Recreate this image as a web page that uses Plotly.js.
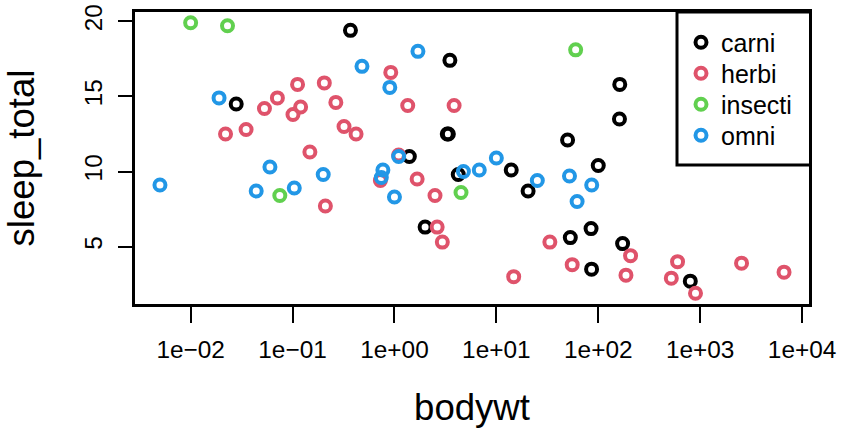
<!DOCTYPE html>
<html>
<head>
<meta charset="utf-8">
<script src="https://cdn.plot.ly/plotly-3.0.1.min.js"></script>
<style>html,body{margin:0;padding:0;background:#fff;}#chart{width:843px;height:428px;}</style>
</head>
<body>
<div id="chart"></div>
<script>
// msleep (rows with a known 'vore')
const animal = ["Cheetah","Owl monkey","Mountain beaver","Greater short-tailed shrew","Cow","Three-toed sloth","Northern fur seal","Dog","Roe deer","Goat","Guinea pig","Grivet","Chinchilla","Star-nosed mole","African giant pouched rat","Lesser short-tailed shrew","Long-nosed armadillo","Tree hyrax","North American Opossum","Asian elephant","Big brown bat","Horse","Donkey","European hedgehog","Patas monkey","Western american chipmunk","Domestic cat","Galago","Giraffe","Pilot whale","Gray seal","Gray hyrax","Human","Mongoose lemur","African elephant","Thick-tailed opposum","Macaque","Mongolian gerbil","Golden hamster","Vole","House mouse","Little brown bat","Round-tailed muskrat","Slow loris","Degu","Northern grasshopper mouse","Rabbit","Sheep","Chimpanzee","Tiger","Jaguar","Lion","Baboon","Potto","Caspian seal","Common porpoise","Potoroo","Giant armadillo","Laboratory rat","African striped mouse","Squirrel monkey","Eastern american mole","Cotton rat","Arctic ground squirrel","Thirteen-lined ground squirrel","Golden-mantled ground squirrel","Pig","Short-nosed echidna","Eastern american chipmunk","Brazilian tapir","Tenrec","Tree shrew","Bottle-nosed dolphin","Genet","Arctic fox","Red fox"];
const vore = ["carni","omni","herbi","omni","herbi","herbi","carni","carni","herbi","herbi","herbi","omni","herbi","omni","omni","omni","carni","herbi","omni","herbi","insecti","herbi","herbi","omni","omni","herbi","carni","omni","herbi","carni","carni","herbi","omni","herbi","herbi","carni","omni","herbi","herbi","herbi","herbi","insecti","herbi","carni","herbi","carni","herbi","herbi","omni","carni","carni","carni","omni","omni","carni","carni","herbi","insecti","herbi","omni","omni","insecti","herbi","herbi","herbi","herbi","omni","insecti","herbi","herbi","omni","omni","carni","carni","carni","carni"];
const bodywt = [50,0.48,1.35,0.019,600,3.85,20.49,14,14.8,33.5,0.728,4.75,0.42,0.06,1.0,0.005,3.5,2.95,1.7,2547,0.023,521,187,0.77,10,0.071,3.3,0.2,900,800,85,2.625,62,1.67,6654,0.37,6.8,0.053,0.12,0.035,0.022,0.01,0.266,1.4,0.21,0.028,2.5,55.5,52.2,162.564,100,161.499,25.235,1.1,86,53.18,1.1,60,0.32,0.044,0.743,0.075,0.148,0.92,0.101,0.205,86.25,4.5,0.112,207.501,0.9,0.104,173.33,2.0,3.38,4.23];
const sleep_total = [12.1,17.0,14.4,14.9,4.0,14.4,8.7,10.1,3.0,5.3,9.4,10.0,12.5,10.3,8.3,9.1,17.4,5.3,18.0,3.9,19.7,2.9,3.1,10.1,10.9,14.9,12.5,9.8,1.9,2.7,6.2,6.3,8.0,9.5,3.3,19.4,10.1,14.2,14.3,12.8,12.5,19.9,14.6,11.0,7.7,14.5,8.4,3.8,9.7,15.8,10.4,13.5,9.4,11.0,3.5,5.6,11.1,18.1,13.0,8.7,9.6,8.4,11.3,16.6,13.8,15.9,9.1,8.6,15.8,4.4,15.6,8.9,5.2,6.3,12.5,9.8];

const voreLevels = ["carni","herbi","insecti","omni"];
const voreColors = ["#000000","#DF536B","#61D04F","#2297E6"];
const xTickVals = [0.01,0.1,1,10,100,1000,10000];
const xTickText = ["1e\u221202","1e\u221201","1e+00","1e+01","1e+02","1e+03","1e+04"];
const yTickVals = [5,10,15,20];

const FONT = "Liberation Sans, Arial, Helvetica, sans-serif";
const W = 843, H = 428;
const M = {l: 135, r: 34, t: 12, b: 124};
const pw = W - M.l - M.r, ph = H - M.t - M.b;
const px2x = p => (p - M.l) / pw;
const py2y = p => (H - M.b - p) / ph;

// one legend per entry so that entries can sit at R's spacing
const legendNames = ["legend", "legend2", "legend3", "legend4"];
const legendRowY = [42.5, 73.5, 104.5, 135.5];

const traces = voreLevels.map((v, i) => {
  const idx = vore.map((d, j) => d === v ? j : -1).filter(j => j >= 0);
  return {
    type: "scatter", mode: "markers", name: v, legend: legendNames[i],
    x: idx.map(j => bodywt[j]), y: idx.map(j => sleep_total[j]),
    text: idx.map(j => animal[j]),
    marker: {symbol: "circle-open", size: 11, color: voreColors[i], line: {width: 4, color: voreColors[i]}}
  };
});

// R-style 4% axis extension
const lx = bodywt.map(Math.log10);
const xmin = Math.min(...lx), xmax = Math.max(...lx), xs = (xmax - xmin) * 0.04;
const ymin = Math.min(...sleep_total), ymax = Math.max(...sleep_total), ys = (ymax - ymin) * 0.04;

const layout = {
  width: W, height: H,
  margin: M,
  paper_bgcolor: "#ffffff", plot_bgcolor: "#ffffff",
  font: {family: FONT, color: "#000000", size: 24.4},
  showlegend: true,
  xaxis: {
    type: "log", range: [xmin - xs, xmax + xs], autorange: false,
    tickmode: "array", tickvals: xTickVals, ticktext: xTickText,
    ticks: "outside", ticklen: 16, tickwidth: 2, tickcolor: "#000000",
    showline: true, linewidth: 3, linecolor: "#000000", mirror: true,
    showgrid: false, zeroline: false,
    tickfont: {family: FONT, size: 24.4}, ticklabelstandoff: 6,
    title: {text: "bodywt", font: {family: FONT, size: 36.6}, standoff: 33}
  },
  yaxis: {
    range: [ymin - ys, ymax + ys], autorange: false,
    tickmode: "array", tickvals: yTickVals, tickangle: -90,
    ticks: "outside", ticklen: 14, tickwidth: 2, tickcolor: "#000000",
    showline: true, linewidth: 3, linecolor: "#000000", mirror: true,
    showgrid: false, zeroline: false,
    tickfont: {family: FONT, size: 24.4}, ticklabelstandoff: 6,
    title: {text: "sleep_total", font: {family: FONT, size: 36.6}, standoff: 35}
  },
  shapes: [{
    type: "rect", xref: "paper", yref: "paper", layer: "above",
    x0: px2x(677), x1: px2x(810.5), y0: py2y(165), y1: py2y(12),
    line: {color: "#000000", width: 3}, fillcolor: "#ffffff"
  }]
};
legendNames.forEach((ln, i) => {
  layout[ln] = {
    x: px2x(681), y: py2y(legendRowY[i]), xanchor: "left", yanchor: "middle",
    bgcolor: "rgba(0,0,0,0)", borderwidth: 0, font: {family: FONT, size: 25}
  };
});

Plotly.newPlot("chart", traces, layout, {displayModeBar: false, staticPlot: true});
</script>
</body>
</html>
